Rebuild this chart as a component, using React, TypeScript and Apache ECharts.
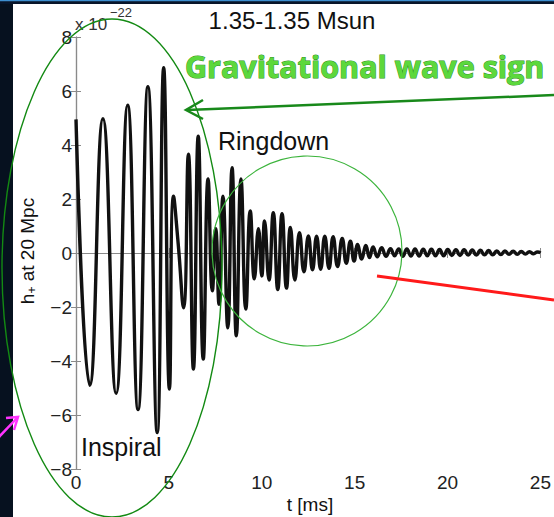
import React, { useEffect, useRef } from "react";
import * as echarts from "echarts";

// Waveform extrema: t in ms, h+ in units of 1e-22
const timesMs = [
  0.0, 0.74, 1.45, 2.16, 2.78, 3.34, 3.87, 4.37, 4.72, 5.03,
  5.25, 5.5, 5.79, 6.05, 6.32, 6.58, 6.85, 7.11, 7.34, 7.52,
  7.7, 7.91, 8.17, 8.4, 8.63, 8.88, 9.14, 9.38, 9.6, 9.82,
  10.0, 10.15, 10.39, 10.62, 10.86, 11.09, 11.33, 11.54, 11.78, 12.03,
  12.27, 12.51, 12.73, 12.95, 13.17, 13.39, 13.62, 13.84, 14.08, 14.33,
  14.55, 14.77, 14.97, 15.16, 15.38, 15.6, 15.8, 15.99, 16.22, 16.45,
  16.69, 16.93, 17.15, 17.37, 17.59, 17.81, 18.03, 18.25, 18.47, 18.69,
  18.91, 19.13, 19.35, 19.57, 19.79, 20.01, 20.23, 20.45, 20.67, 20.89,
  21.11, 21.33, 21.55, 21.77, 21.99, 22.21, 22.43, 22.65, 22.87, 23.09,
  23.31, 23.53, 23.75, 23.97, 24.19, 24.41, 24.63, 24.85, 25.0,
];
const strain = [
  4.95, -4.9, 4.97, -5.2, 5.47, -5.8, 6.16, -6.65, 6.86, -5.04,
  2.1, 0.35, -2.03, 3.66, -4.3, 4.33, -3.93, 2.74, -1.4, 0.9,
  -1.9, 2.1, -2.77, 3.16, -3.07, 2.74, -2.08, 1.56, -0.96, 0.9,
  -0.85, 1.19, -1.0, 1.49, -1.35, 1.46, -1.3, 0.95, -1.0, 0.75,
  -0.7, 0.63, -0.62, 0.62, -0.6, 0.62, -0.57, 0.6, -0.5, 0.54,
  -0.38, 0.44, -0.3, 0.32, -0.22, 0.28, -0.17, 0.22, -0.14, 0.2,
  -0.12, 0.16, -0.1, 0.15, -0.12, 0.15, -0.11, 0.15, -0.11, 0.14,
  -0.1, 0.14, -0.1, 0.13, -0.1, 0.13, -0.09, 0.12, -0.09, 0.12,
  -0.08, 0.11, -0.08, 0.1, -0.07, 0.09, -0.07, 0.08, -0.06, 0.08,
  -0.05, 0.07, -0.05, 0.06, -0.04, 0.05, -0.03, 0.04, 0.0,
];

const xTicks = { min: 0, max: 25, interval: 5 };
const yTicks = { min: -8, max: 8, interval: 2 };

const titleText = "1.35-1.35 Msun";
const xName = "t [ms]";
const ringdownText = "Ringdown";
const inspiralText = "Inspiral";
const headline = "Gravitational wave sign";

const FONT = "'Liberation Sans', Arial, Helvetica, sans-serif";

export default function App() {
  const ref = useRef<HTMLDivElement>(null);

  useEffect(() => {
    document.body.style.margin = "0";
    const chart = echarts.init(ref.current!, null, { renderer: "svg" });
    const data = timesMs.map((t, i) => [t, strain[i]]);
    const axisGray = "#8a8a8a";
    const labelStyle = { color: "#222", fontSize: 19, fontFamily: FONT };

    chart.setOption({
      animation: false,
      backgroundColor: "#ffffff",
      grid: { left: 76, right: 7, top: 37, bottom: 48, containLabel: false },
      xAxis: [
        {
          type: "value",
          ...xTicks,
          axisLine: { show: true, lineStyle: { color: axisGray, width: 1.2 } },
          axisTick: { show: true, inside: true, length: 5, lineStyle: { color: axisGray } },
          axisLabel: { ...labelStyle, margin: 4 },
          splitLine: { show: false },
        },
        {
          type: "value",
          position: "top",
          ...xTicks,
          axisLine: { show: true, lineStyle: { color: axisGray, width: 1.2 } },
          axisTick: { show: true, inside: true, length: 5, lineStyle: { color: axisGray } },
          axisLabel: { show: false },
          splitLine: { show: false },
        },
      ],
      yAxis: [
        {
          type: "value",
          position: "left",
          ...yTicks,
          axisLine: { show: true, lineStyle: { color: axisGray, width: 1.2 } },
          axisTick: { show: true, inside: true, length: 5, lineStyle: { color: axisGray } },
          axisLabel: {
            ...labelStyle,
            margin: -8,
            padding: [0, 12, 0, 0],
            align: "right",
            formatter: (v: number) => (v < 0 ? "\u2212" + Math.abs(v) : String(v)),
          },
          splitLine: { show: false },
        },
        {
          type: "value",
          position: "right",
          ...yTicks,
          axisLine: { show: true, lineStyle: { color: axisGray, width: 1.2 } },
          axisTick: { show: true, inside: true, length: 5, lineStyle: { color: axisGray } },
          axisLabel: { show: false },
          splitLine: { show: false },
        },
      ],
      series: [
        {
          type: "line",
          xAxisIndex: 0,
          yAxisIndex: 0,
          data,
          smooth: 0.5,
          showSymbol: false,
          lineStyle: { color: "#111111", width: 3.4 },
          z: 3,
        },
      ],
      graphic: [
        // dark slide frame
        { type: "rect", shape: { x: 0, y: 0, width: 13, height: 517 }, style: { fill: "#06111f" }, z: 50 },
        { type: "rect", shape: { x: 0, y: 0, width: 554, height: 4 }, style: { fill: "#08152a" }, z: 50 },
        { type: "line", shape: { x1: 0, y1: 0.5, x2: 554, y2: 0.5 }, style: { stroke: "#3d8fd0", lineWidth: 1.5 }, z: 51 },
        // title & axis texts
        {
          type: "text", x: 292, y: 20, z: 60,
          style: { text: titleText, fill: "#111", font: `24px ${FONT}`, align: "center", verticalAlign: "middle" },
        },
        {
          type: "text", x: 75, y: 33, z: 60,
          style: { text: "x 10", fill: "#333", font: `17px ${FONT}`, align: "left", verticalAlign: "bottom" },
        },
        {
          type: "text", x: 110, y: 19, z: 60,
          style: { text: "\u221222", fill: "#333", font: `13px ${FONT}`, align: "left", verticalAlign: "bottom" },
        },
        {
          type: "text", x: 310, y: 504, z: 60,
          style: { text: xName, fill: "#111", font: `19px ${FONT}`, align: "center", verticalAlign: "middle" },
        },
        {
          type: "text", x: 27, y: 251, rotation: Math.PI / 2, z: 60,
          style: {
            text: "{a|h}{b|+}{a| at 20 Mpc}",
            align: "center",
            verticalAlign: "middle",
            rich: {
              a: { fontSize: 19, fontFamily: FONT, fill: "#111", color: "#111" },
              b: { fontSize: 12, fontFamily: FONT, fill: "#111", color: "#111", padding: [9, 0, 0, 0] },
            },
          },
        },
        {
          type: "text", x: 218, y: 141, z: 60,
          style: { text: ringdownText, fill: "#111", font: `25px ${FONT}`, align: "left", verticalAlign: "middle" },
        },
        {
          type: "text", x: 81, y: 447, z: 60,
          style: { text: inspiralText, fill: "#111", font: `25px ${FONT}`, align: "left", verticalAlign: "middle" },
        },
        // annotations
        {
          type: "ellipse", z: 70,
          shape: { cx: 112, cy: 268, rx: 110, ry: 249 },
          style: { fill: "none", stroke: "#138a13", lineWidth: 1.4 },
        },
        {
          type: "circle", z: 70,
          shape: { cx: 307, cy: 251, r: 95 },
          style: { fill: "none", stroke: "#3cb43c", lineWidth: 1.2 },
        },
        {
          type: "line", z: 71,
          shape: { x1: 554, y1: 95, x2: 187, y2: 110 },
          style: { stroke: "#18891a", lineWidth: 2.5 },
        },
        {
          type: "polyline", z: 71,
          shape: { points: [[203, 100], [186, 110], [203, 119]] },
          style: { stroke: "#18891a", lineWidth: 2.5, fill: "none" },
        },
        {
          type: "line", z: 71,
          shape: { x1: 377, y1: 276, x2: 554, y2: 300 },
          style: { stroke: "#ff1a1a", lineWidth: 3 },
        },
        {
          type: "line", z: 72,
          shape: { x1: -4, y1: 440, x2: 18, y2: 417 },
          style: { stroke: "#ff33ff", lineWidth: 2.5 },
        },
        {
          type: "polyline", z: 72,
          shape: { points: [[6, 418], [18, 417], [14, 430]] },
          style: { stroke: "#ff33ff", lineWidth: 2.5, fill: "none" },
        },
        {
          type: "text", x: 185, y: 66, z: 80,
          style: {
            text: headline,
            font: `bold 30.5px 'Open Sans', Lato, sans-serif`,
            fill: "#5cd83c",
            stroke: "#2f8f22",
            lineWidth: 1,
            align: "left",
            verticalAlign: "middle",
            shadowColor: "rgba(0,0,0,0.55)",
            shadowBlur: 3,
            shadowOffsetX: 1.5,
            shadowOffsetY: 1.5,
          },
        },
      ],
    });
    return () => chart.dispose();
  }, []);

  return <div ref={ref} style={{ width: 554, height: 517 }} />;
}
